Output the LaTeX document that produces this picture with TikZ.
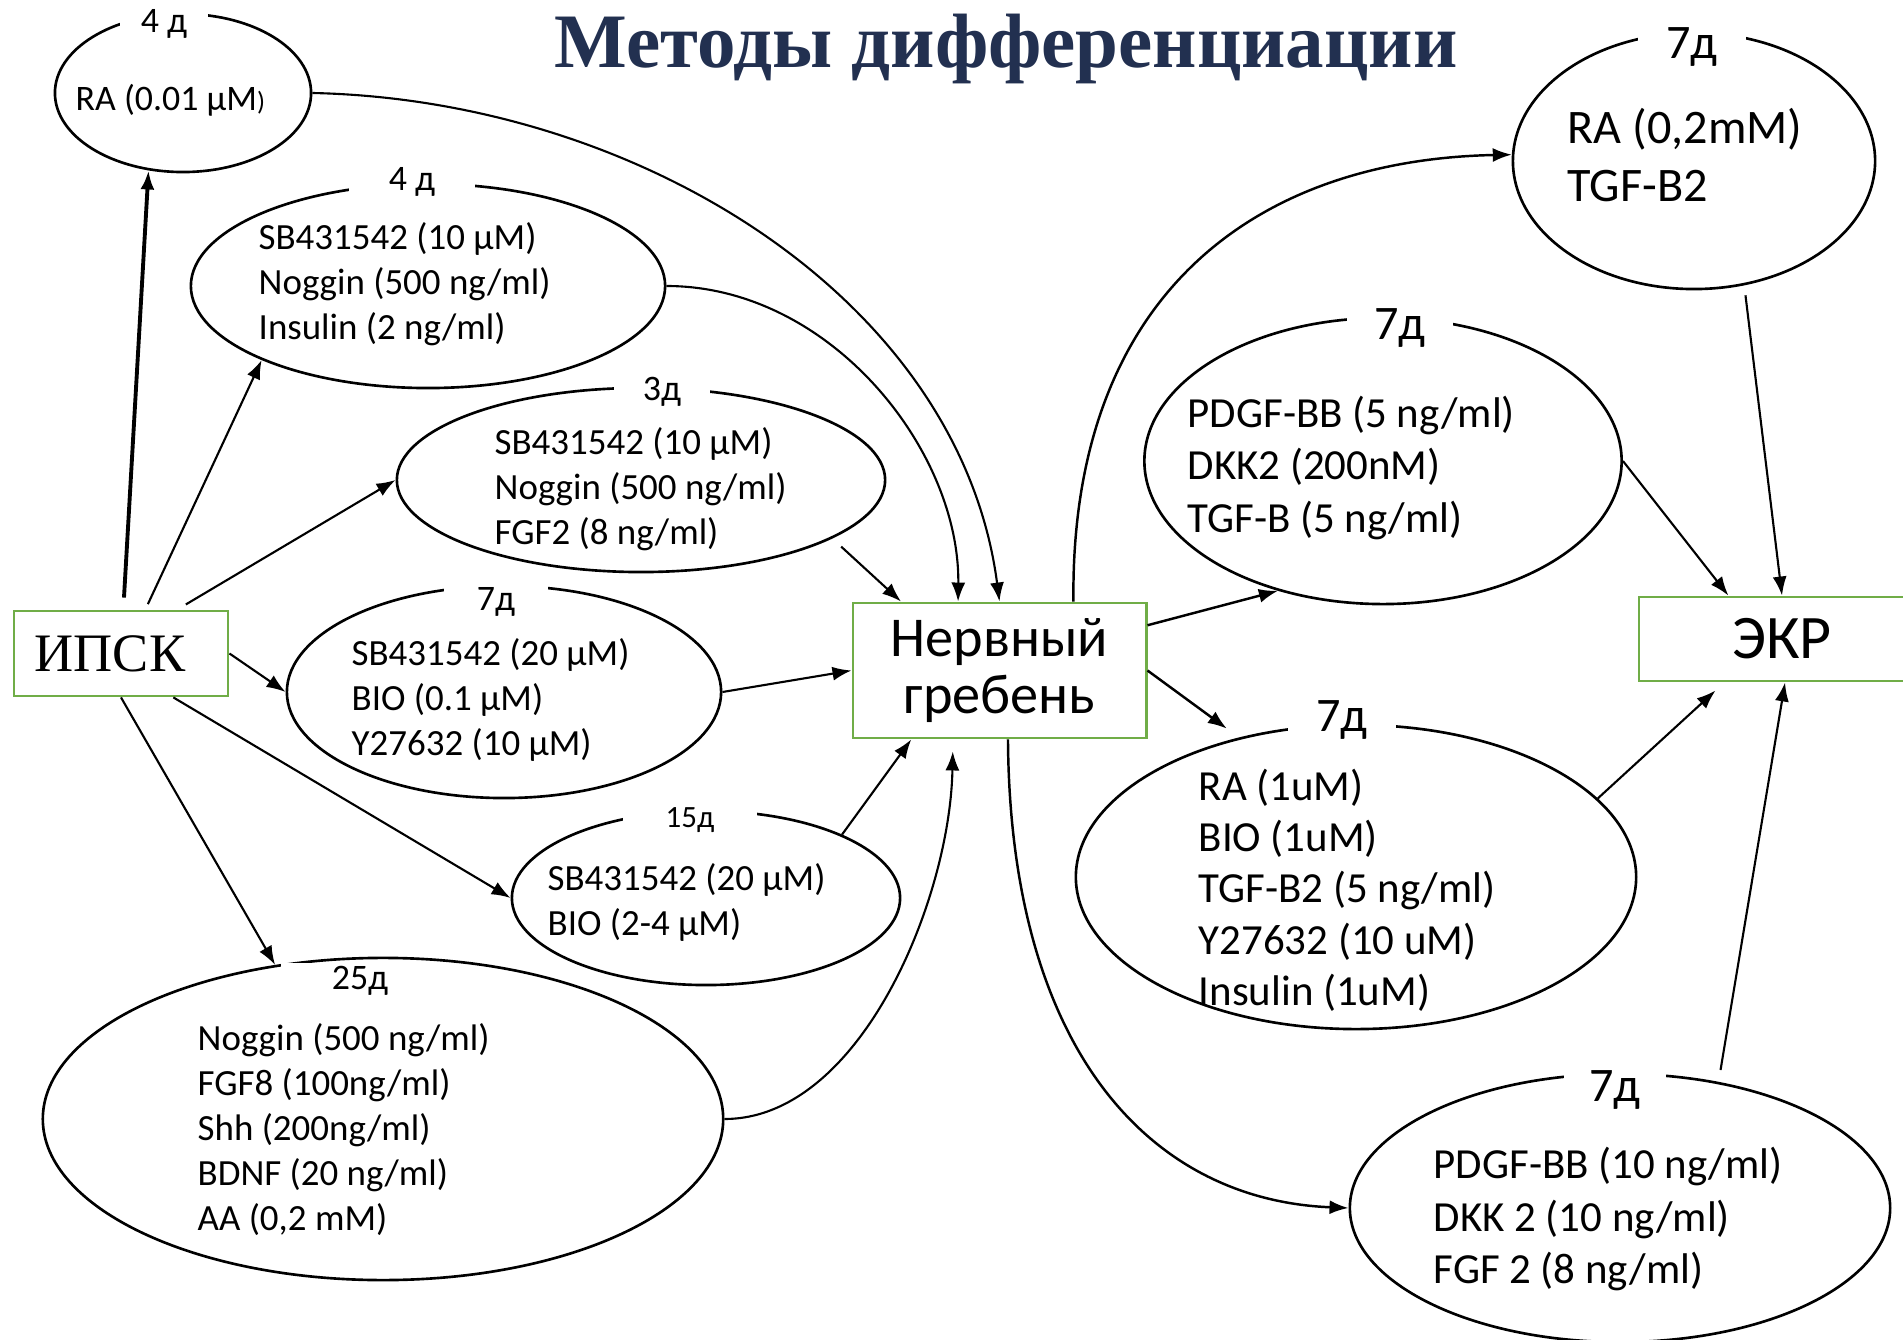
\documentclass[tikz,border=0pt]{standalone}
\usepackage{fontspec}
\setmainfont{Carlito}
\newfontfamily\serifcyr{Liberation Serif}
\usetikzlibrary{shapes.geometric,arrows.meta}
\definecolor{titleblue}{RGB}{34,48,80}
\definecolor{boxgreen}{RGB}{112,173,71}
\newcommand{\fs}[2]{\fontsize{#1}{#2}\selectfont}

\begin{document}
\begin{tikzpicture}[x=0.01cm,y=-0.01cm,
	>={Latex[length=1.9mm,width=1.4mm]},
	phase/.style={draw,ellipse,inner sep=0,line width=0.75pt},
	stage/.style={draw=boxgreen,line width=0.8pt,inner sep=0},
	days/.style={fill=white,inner xsep=0,inner ysep=1pt},
	mix/.style={anchor=west,align=left,inner sep=0},
	arr/.style={->,line width=0.6pt}]
	\useasboundingbox (0,0) rectangle (1903,1340);
	\node[text=titleblue,font=\serifcyr\bfseries\fs{21.9}{26},anchor=base,inner sep=0] (title) at (1006,68) {Методы дифференциации};

	\node[stage,minimum width=2.14cm,minimum height=0.85cm,font=\serifcyr\fs{15.4}{18}] (ipsc) at (121,653.5) {ИПСК\kern0.22cm};
	\node[stage,minimum width=2.93cm,minimum height=1.35cm,align=center,font=\fs{16}{16.2}] (crest) at (999.5,670.5) {Нервный\\гребень};
	\node[stage,minimum width=2.86cm,minimum height=0.84cm,font=\fs{17.6}{20}] (rpe) at (1782,639) {ЭКР};

	\node[phase,minimum width=2.56cm,minimum height=1.58cm] (raLow) at (183,93) {};
	\node[phase,minimum width=4.74cm,minimum height=2.04cm] (insMix) at (428,286) {};
	\node[phase,minimum width=4.88cm,minimum height=1.84cm] (fgfMix) at (641,480) {};
	\node[phase,minimum width=4.34cm,minimum height=2.12cm] (bioMix) at (504,692) {};
	\node[phase,minimum width=3.88cm,minimum height=1.74cm] (bioHigh) at (706,898) {};
	\node[phase,minimum width=6.80cm,minimum height=3.22cm] (shhMix) at (383,1119) {};
	\node[phase,minimum width=3.62cm,minimum height=2.56cm] (raTgf) at (1694,161) {};
	\node[phase,minimum width=4.77cm,minimum height=2.86cm] (pdgfLow) at (1383,461) {};
	\node[phase,minimum width=5.60cm,minimum height=3.04cm] (raBio) at (1356,877) {};
	\node[phase,minimum width=5.40cm,minimum height=2.68cm] (pdgfHigh) at (1620,1208) {};

	\node[days,minimum width=0.88cm,font=\fs{10.2}{12}] (raLowDays) at (164,24) {4 д};
	\node[days,minimum width=1.25cm,font=\fs{10.2}{12}] (insMixDays) at (412,182) {4 д};
	\node[days,minimum width=0.95cm,font=\fs{10.2}{12}] (fgfMixDays) at (662,392) {3д};
	\node[days,minimum width=1.04cm,font=\fs{10.2}{12}] (bioMixDays) at (496,602) {7д};
	\node[days,minimum width=1.33cm,font=\fs{8.8}{11}] (bioHighDays) at (690,820) {15д};
	\node[days,minimum width=1.57cm,font=\fs{10.2}{12}] (shhMixDays) at (360,981) {25д};
	\node[days,minimum width=1.07cm,font=\fs{13.7}{16}] (raTgfDays) at (1692,47) {7д};
	\node[days,minimum width=1.06cm,font=\fs{13.7}{16}] (pdgfLowDays) at (1400,328) {7д};
	\node[days,minimum width=1.08cm,font=\fs{13.7}{16}] (raBioDays) at (1342,720) {7д};
	\node[days,minimum width=1.01cm,font=\fs{13.7}{16}] (pdgfHighDays) at (1615,1090) {7д};

	\node[mix,font=\fs{10.2}{12.8}] (raLowTxt) at (75,100) {RA (0.01 µM{\fs{7.5}{9})}};
	\node[mix,font=\fs{10.5}{12.8}] (insMixTxt) at (258,284) {SB431542 (10 µM)\\Noggin (500 ng/ml)\\Insulin (2 ng/ml)};
	\node[mix,font=\fs{10.5}{12.8}] (fgfMixTxt) at (494,489) {SB431542 (10 µM)\\Noggin (500 ng/ml)\\FGF2 (8 ng/ml)};
	\node[mix,font=\fs{10.5}{12.8}] (bioMixTxt) at (351,700) {SB431542 (20 µM)\\BIO (0.1 µM)\\Y27632 (10 µM)};
	\node[mix,font=\fs{10.5}{12.8}] (bioHighTxt) at (547,902) {SB431542 (20 µM)\\BIO (2-4 µM)};
	\node[mix,font=\fs{10.5}{12.8}] (shhMixTxt) at (197,1130) {Noggin (500 ng/ml)\\FGF8 (100ng/ml)\\Shh (200ng/ml)\\BDNF (20 ng/ml)\\AA (0,2 mM)};
	\node[mix,font=\fs{13.7}{16.5}] (raTgfTxt) at (1567,155) {RA (0,2mM)\\TGF-B2};
	\node[mix,font=\fs{12.2}{14.8}] (pdgfLowTxt) at (1187,468) {PDGF-BB (5 ng/ml)\\DKK2 (200nM)\\TGF-B (5 ng/ml)};
	\node[mix,font=\fs{12.2}{14.6}] (raBioTxt) at (1198,890) {RA (1uM)\\BIO (1uM)\\TGF-B2 (5 ng/ml)\\Y27632 (10 uM)\\Insulin (1uM)};
	\node[mix,font=\fs{12.2}{14.9}] (pdgfHighTxt) at (1433,1219) {PDGF-BB (10 ng/ml)\\DKK 2 (10 ng/ml)\\FGF 2 (8 ng/ml)};

	\draw[arr,line width=1.1pt,shorten <=0.12cm] (ipsc.87) -- (raLow.-114);
	\draw[arr,shorten <=0.06cm] (ipsc.61) -- (insMix.-156);
	\draw[arr,shorten <=0.1cm] (ipsc.38) -- (fgfMix.west);
	\draw[arr] (ipsc.east) -- (bioMix.west);
	\draw[arr] (ipsc.-40) -- (bioHigh.west);
	\draw[arr] (ipsc.-90) -- (shhMix.125);

	\draw[arr] (raLow.east) .. controls (640,100) and (960,300) .. (crest.north);
	\draw[arr] (insMix.east) .. controls (830,286) and (960,450) .. (crest.121);
	\draw[arr,shorten <=0.12cm] (fgfMix.-17) -- (crest.145);
	\draw[arr] (bioMix.east) -- (crest.west);
	\draw[arr] (bioHigh.25) -- (crest.-142);
	\draw[arr,shorten >=0.12cm] (shhMix.east) .. controls (860,1119) and (950,900) .. (crest.-124);

	\draw[arr,line width=0.7pt] (crest.43) .. controls (1070,300) and (1250,160) .. (raTgf.178);
	\draw[arr,line width=0.7pt] (crest.17) -- (pdgfLow.-129);
	\draw[arr,line width=0.7pt,shorten >=0.15cm] (crest.east) -- (raBio.130);
	\draw[arr,line width=0.7pt] (crest.-83) .. controls (1010,1050) and (1150,1200) .. (pdgfHigh.west);

	\draw[arr,shorten <=0.1cm] (raTgf.-68) -- (rpe.north);
	\draw[arr] (pdgfLow.east) -- (rpe.141);
	\draw[arr,shorten >=0.12cm] (raBio.18) -- (rpe.-143);
	\draw[arr,shorten <=0.12cm] (pdgfHigh.52) -- (rpe.-86);
\end{tikzpicture}
\end{document}
